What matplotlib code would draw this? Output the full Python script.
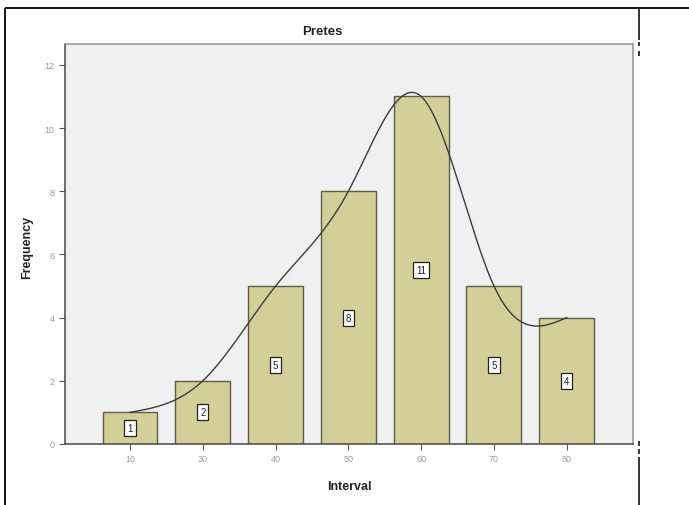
import numpy as np
import matplotlib
matplotlib.use("Agg")
import matplotlib.pyplot as plt
from matplotlib.lines import Line2D

plt.rcParams["font.family"] = ["Liberation Sans", "DejaVu Sans"]

# data
intervals = ["10", "30", "40", "50", "60", "70", "80"]
frequency = [1, 2, 5, 8, 11, 5, 4]
y_ticks = [0, 2, 4, 6, 8, 10, 12]

BAR_COLOR = "#d4cf98"
EDGE_COLOR = "#5c5c48"
BG_COLOR = "#f0f0f0"


def natural_spline(x, y, n=300):
    """Interpolation line through the bar tops (natural cubic spline)"""
    x = np.asarray(x, float)
    y = np.asarray(y, float)
    k = len(x)
    h = np.diff(x)
    A = np.zeros((k, k))
    b = np.zeros(k)
    A[0, 0] = A[-1, -1] = 1
    for i in range(1, k - 1):
        A[i, i - 1] = h[i - 1]
        A[i, i] = 2 * (h[i - 1] + h[i])
        A[i, i + 1] = h[i]
        b[i] = 6 * ((y[i + 1] - y[i]) / h[i] - (y[i] - y[i - 1]) / h[i - 1])
    m = np.linalg.solve(A, b)
    xs = np.linspace(x[0], x[-1], n)
    idx = np.clip(np.searchsorted(x, xs) - 1, 0, k - 2)
    x0, x1 = x[idx], x[idx + 1]
    hh = x1 - x0
    t0, t1 = x1 - xs, xs - x0
    ys = (m[idx] * t0 ** 3 / (6 * hh) + m[idx + 1] * t1 ** 3 / (6 * hh)
          + (y[idx] / hh - m[idx] * hh / 6) * t0
          + (y[idx + 1] / hh - m[idx + 1] * hh / 6) * t1)
    return xs, ys


fig = plt.figure(figsize=(6.89, 5.06), dpi=100)
ax = fig.add_axes([65 / 689, 1 - 445 / 506, 568 / 689, 400 / 506])
ax.set_facecolor(BG_COLOR)

pos = np.arange(len(intervals))
ax.bar(pos, frequency, width=0.755, color=BAR_COLOR, edgecolor=EDGE_COLOR,
       linewidth=1.0, zorder=2)

# value labels in small boxes at half height
for p, f in zip(pos, frequency):
    ax.text(p, f / 2, str(f), ha="center", va="center", fontsize=7,
            color="#222222", zorder=4,
            bbox=dict(boxstyle="square,pad=0.3", fc="white", ec="#222222", lw=0.9))

xs, ys = natural_spline(pos, frequency)
ax.plot(xs, ys, color="#3c3c3c", linewidth=1.0, zorder=3)

ax.set_xlim(-0.893, 6.91)
ax.set_ylim(0, 12.66)
ax.set_xticks(pos)
ax.set_xticklabels(intervals)
ax.set_yticks(y_ticks)
ax.tick_params(axis="both", labelsize=6.5, labelcolor="#9a9a9a", color="#555555",
               length=4, width=0.8, direction="out")

for side in ["top", "right"]:
    ax.spines[side].set_color("#9a9a9a")
    ax.spines[side].set_linewidth(1.2)
for side in ["left", "bottom"]:
    ax.spines[side].set_color("#555555")
    ax.spines[side].set_linewidth(1.2)

fig.text(322 / 689, 1 - 32 / 506, "Pretes", ha="center", va="center",
         fontsize=9.5, fontweight="bold", color="#222222")
ax.set_xlabel("Interval", fontsize=9, fontweight="bold", color="#222222", labelpad=12)
fig.text(27 / 689, 1 - 247 / 506, "Frequency", ha="center", va="center",
         rotation=90, fontsize=9, fontweight="bold", color="#222222")

# outer frame lines around the chart
def fig_line(x0, y0, x1, y1, lw=1.4):
    fig.add_artist(Line2D([x0 / 689, x1 / 689], [1 - y0 / 506, 1 - y1 / 506],
                          color="#111111", linewidth=lw, solid_capstyle="butt"))

fig_line(5, 9, 689, 9)
fig_line(5, 9, 5, 506)
fig_line(639, 9, 639, 41, lw=1.2)
fig_line(639, 43, 639, 47, lw=1.2)
fig_line(639, 52, 639, 57, lw=1.2)
fig_line(639, 442, 639, 447, lw=1.2)
fig_line(639, 450, 639, 455, lw=1.2)
fig_line(639, 458, 639, 506, lw=1.2)

fig.savefig("out.png", dpi=100)
